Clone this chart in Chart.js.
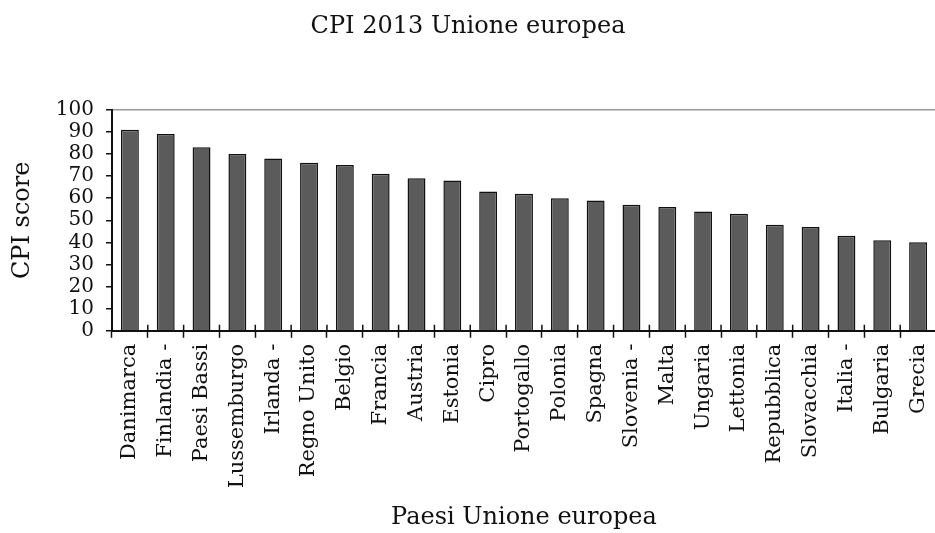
<!DOCTYPE html>
<html>
<head>
<meta charset="utf-8">
<script src="https://cdn.jsdelivr.net/npm/chart.js@4"></script>
<style>
  html, body { margin: 0; padding: 0; background: #fff; overflow: hidden; }
  #box { width: 950px; height: 533px; }
</style>
</head>
<body>
<div id="box"><canvas id="cpiChart"></canvas></div>
<script>
// Paesi e punteggi CPI 2013
const paesi = ['Danimarca', 'Finlandia -', 'Paesi Bassi', 'Lussemburgo', 'Irlanda -', 'Regno Unito',
  'Belgio', 'Francia', 'Austria', 'Estonia', 'Cipro', 'Portogallo', 'Polonia', 'Spagna',
  'Slovenia -', 'Malta', 'Ungaria', 'Lettonia', 'Repubblica', 'Slovacchia', 'Italia -',
  'Bulgaria', 'Grecia'];
const punteggi = [91, 89, 83, 80, 78, 76, 75, 71, 69, 68, 63, 62, 60, 59, 57, 56, 54, 53, 48, 47, 43, 41, 40];
const yTicks = [0, 10, 20, 30, 40, 50, 60, 70, 80, 90, 100];

const font = 'DejaVu Serif';
const ink = '#111';

// petite marque au-dessus de l'axe x, entre les barres
const tickCross = {
    id: 'tickCross',
    afterDraw(chart) {
        const x = chart.scales.x, c = chart.ctx, y0 = chart.chartArea.bottom;
        c.save();
        c.strokeStyle = ink;
        c.lineWidth = 1.5;
        c.beginPath();
        for (let i = 1; i < paesi.length; i++) {
            const px = (x.getPixelForValue(i - 1) + x.getPixelForValue(i)) / 2;
            c.moveTo(px, y0);
            c.lineTo(px, y0 - 6);
        }
        c.stroke();
        c.restore();
    }
};

const ctx = document.getElementById('cpiChart').getContext('2d');
new Chart(ctx, {
    type: 'bar',
    data: {
        labels: paesi,
        datasets: [{
            label: 'CPI score',
            data: punteggi,
            backgroundColor: '#5b5b5b',
            borderColor: '#111',
            borderWidth: 1.5,
            barPercentage: 0.5,
            categoryPercentage: 1
        }]
    },
    options: {
        responsive: true,
        maintainAspectRatio: false,
        animation: false,
        layout: { padding: { top: 8, right: 14, bottom: 1, left: 0 } },
        plugins: {
            legend: { display: false },
            tooltip: { enabled: false },
            title: {
                display: true,
                text: 'CPI 2013 Unione europea',
                color: ink,
                font: { family: font, size: 24, weight: 'normal' },
                padding: { top: 4, bottom: 69 }
            }
        },
        scales: {
            x: {
                grid: {
                    offset: true,
                    drawOnChartArea: false,
                    tickLength: 7,
                    tickColor: ink,
                    tickWidth: 1.5
                },
                border: { color: ink, width: 2 },
                ticks: {
                    color: ink,
                    font: { family: font, size: 21 },
                    minRotation: 90,
                    maxRotation: 90,
                    autoSkip: false,
                    padding: 6
                },
                title: {
                    display: true,
                    text: 'Paesi Unione europea',
                    color: ink,
                    font: { family: font, size: 24 },
                    padding: { top: 9, bottom: 0 }
                }
            },
            y: {
                min: 0,
                max: 100,
                afterBuildTicks: axis => { axis.ticks = yTicks.map(v => ({ value: v })); },
                grid: {
                    color: c => c.tick && c.tick.value === 100 ? '#9a9a9a' : 'transparent',
                    lineWidth: 1.5,
                    tickLength: 6,
                    tickColor: ink,
                    tickWidth: 1.5
                },
                border: { color: ink, width: 2 },
                ticks: {
                    color: ink,
                    font: { family: font, size: 20 },
                    autoSkip: false,
                    padding: 12
                },
                title: {
                    display: true,
                    text: 'CPI score',
                    color: ink,
                    font: { family: font, size: 24 },
                    padding: { top: 8, bottom: 7 }
                }
            }
        }
    },
    plugins: [tickCross]
});
</script>
</body>
</html>
